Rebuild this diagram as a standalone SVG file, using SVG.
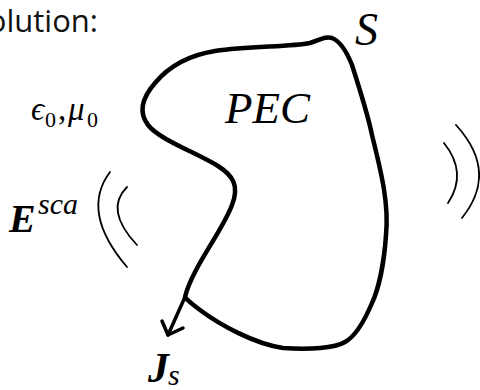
<svg xmlns="http://www.w3.org/2000/svg" width="480" height="390" viewBox="0 0 480 390">
<style>
.body{fill:none;stroke:#000;stroke-width:4.5;stroke-linejoin:round;stroke-linecap:round}
.wave{fill:none;stroke:#000;stroke-width:1.8;stroke-linecap:round}
.arrow{fill:none;stroke:#000;stroke-width:3.5;stroke-linecap:round;stroke-linejoin:round}
.m{font-family:"Liberation Serif","DejaVu Serif",serif;font-style:italic;fill:#000}
.up{font-style:normal}
.b{font-weight:bold}
.t{font-family:"Open Sans","Liberation Sans",sans-serif;fill:#111}
</style>
<rect width="480" height="390" fill="#fff"/>
<text class="t" x="98" y="32" font-size="31" text-anchor="end">Solution:</text>
<g id="pec">
<path class="body" d="M185,297 C192,268 222,232 232,205 C240,185 232,175 218,166 C195,152 160,140 148,125 C138,112 142,98 155,83 C170,65 190,55 215,51 C250,46 290,47 310,43 C320,40 325,36 332,38 C340,41 346,50 352,65 C360,90 368,115 372,135 C382,175 389,205 386,235 C384,265 378,290 372,303 C364,322 356,336 345,342 C335,348 310,350 283,348 C255,344 220,325 200,310 C192,304 187,300 185,297 Z"/>
<text class="m" x="225" y="123" font-size="45">PEC</text>
</g>
<g id="surface-label">
<text class="m" x="355" y="45" font-size="46">S</text>
</g>
<g id="medium-label">
<text class="m" font-size="33"><tspan x="31" y="120">ϵ</tspan><tspan class="up" x="45" y="127" font-size="22">0</tspan><tspan class="up" x="58" y="120">,</tspan><tspan x="68" y="120">μ</tspan><tspan class="up" x="87" y="127" font-size="22">0</tspan></text>
</g>
<g id="scattered-field">
<text class="m b" x="9" y="232" font-size="40">E</text>
<text class="m" x="38" y="214" font-size="30">sca</text>
<path class="wave" d="M110,172 Q80,212 127,267"/>
<path class="wave" d="M127,187 Q104,210 137,245"/>
</g>
<g id="right-waves">
<path class="wave" d="M456,125 Q499,172 462,218"/>
<path class="wave" d="M444,143 Q468,173 448,203"/>
</g>
<g id="connectors">
<path class="arrow" d="M185,297 L168,335"/>
<path class="arrow" d="M162,321 L168,335 L183,328"/>
</g>
<g id="current-label">
<text class="m b" x="148" y="382" font-size="42">J</text>
<text class="m" x="168" y="385" font-size="30">s</text>
</g>
</svg>
